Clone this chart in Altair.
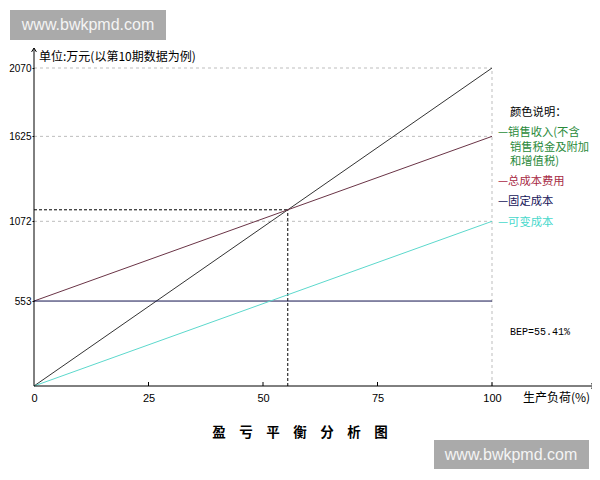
import altair as alt
import pandas as pd

# ---- data ----
load = [0, 100]                      # 生产负荷 (%)
revenue = [0, 2070]                  # 销售收入
total_cost = [553, 1625]             # 总成本费用
fixed_cost = [553, 553]              # 固定成本
variable_cost = [0, 1072]            # 可变成本
series_names = ["销售收入", "总成本费用", "固定成本", "可变成本"]
line_colors = ["#333333", "#6a3446", "#12124e", "#5cd8cc"]
y_ticks = [553, 1072, 1625, 2070]
x_ticks = [0, 25, 50, 75, 100]
x_tick_marks = [25, 50, 75, 100]
grid_levels = [1072, 1625, 2070]
bep_load = 55.41
bep_value = 1147

W, H = 458, 318
FONT = "Noto Sans CJK SC"
NUMFONT = "Liberation Sans"

rows = []
for name, vals in zip(series_names, [revenue, total_cost, fixed_cost, variable_cost]):
    for xv, yv in zip(load, vals):
        rows.append({"series": name, "load": xv, "value": yv})
lines_df = pd.DataFrame(rows)
one = pd.DataFrame({"k": [0]})

xs = alt.Scale(domain=[0, 100], nice=False, zero=False)
ys = alt.Scale(domain=[0, 2070], nice=False, zero=False)

x_axis = alt.Axis(values=x_ticks, domain=False, ticks=False, grid=False, labelPadding=6,
                  labelFontSize=11, labelFont=NUMFONT, labelColor="#000", title=None,
                  labelFlush=False, format="d")
y_axis = alt.Axis(values=y_ticks, domain=False, ticks=True, tickSize=2, tickColor="#000",
                  grid=False, labelPadding=1, labelFontSize=10, labelFont=NUMFONT,
                  labelColor="#000", title=None, labelFlush=False, format="d")

# gray dashed grid
grid_df = pd.DataFrame({"level": grid_levels, "x0": [0] * len(grid_levels), "x1": [100] * len(grid_levels)})
grid_h = alt.Chart(grid_df).mark_rule(color="#bdbdbd", strokeDash=[3, 3], strokeWidth=1).encode(
    y=alt.Y("level:Q", scale=ys, axis=y_axis),
    x=alt.X("x0:Q", scale=xs, axis=x_axis),
    x2="x1:Q",
)
grid_v = alt.Chart(pd.DataFrame({"xv": [100], "y0": [0], "y1": [2070]})).mark_rule(
    color="#bdbdbd", strokeDash=[3, 3], strokeWidth=1
).encode(x=alt.X("xv:Q", scale=xs), y=alt.Y("y0:Q", scale=ys), y2="y1:Q")

# break-even dashed lines
bep_h = alt.Chart(pd.DataFrame({"yv": [bep_value], "x0": [0], "x1": [bep_load]})).mark_rule(
    color="#000", strokeDash=[3, 2], strokeWidth=1
).encode(y=alt.Y("yv:Q", scale=ys), x=alt.X("x0:Q", scale=xs), x2="x1:Q")
bep_v = alt.Chart(pd.DataFrame({"xv": [bep_load], "y0": [0], "y1": [bep_value]})).mark_rule(
    color="#000", strokeDash=[3, 2], strokeWidth=1
).encode(x=alt.X("xv:Q", scale=xs), y=alt.Y("y0:Q", scale=ys), y2="y1:Q")

lines = alt.Chart(lines_df).mark_line(strokeWidth=1).encode(
    x=alt.X("load:Q", scale=xs),
    y=alt.Y("value:Q", scale=ys),
    color=alt.Color("series:N", scale=alt.Scale(domain=series_names, range=line_colors), legend=None),
)

# axis lines with arrows
y_line = alt.Chart(one).mark_rule(color="#000", strokeWidth=1).encode(
    x=alt.value(0), y=alt.value(-20), y2=alt.value(H))
x_line = alt.Chart(one).mark_rule(color="#000", strokeWidth=1).encode(
    y=alt.value(H), x=alt.value(0), x2=alt.value(561))
y_arrow = alt.Chart(one).mark_point(
    shape="M-0.8,1.3L0,0L0.8,1.3", filled=False, color="#000", strokeWidth=1, size=36, opacity=1
).encode(x=alt.value(0), y=alt.value(-20))
x_arrow = alt.Chart(one).mark_point(
    shape="M-1.3,-0.8L0,0L-1.3,0.8", filled=False, color="#000", strokeWidth=1, size=36, opacity=1
).encode(x=alt.value(561), y=alt.value(H))

x_ticks_layer = alt.Chart(pd.DataFrame({"t": x_tick_marks})).mark_rule(color="#000", strokeWidth=1).encode(
    x=alt.X("t:Q", scale=xs), y=alt.value(H - 4), y2=alt.value(H))


def label(txt, x, y, color="#000", size=11.3, align="left", font=FONT, weight="normal"):
    return alt.Chart(one).mark_text(
        text=txt, align=align, baseline="middle", fontSize=size, font=font,
        color=color, fontWeight=weight
    ).encode(x=alt.value(x), y=alt.value(y))


S = "\u3000"
texts = [
    label("单位:万元(以第10期数据为例)", 5, -11, size=12),
    label("生产负荷(%)", 489, 330, size=12),
    label("颜色说明：", 476, 45),
    label("—销售收入(不含", 464, 65, color="#2a8a3a"),
    label("销售税金及附加", 476, 80, color="#2a8a3a"),
    label("和增值税)", 476, 94, color="#2a8a3a"),
    label("—总成本费用", 464, 114, color="#a82a44"),
    label("—固定成本", 464, 134, color="#16165a"),
    label("—可变成本", 464, 155, color="#48d8cc"),
    label("BEP=55.41%", 476, 264, size=10, font="Liberation Mono"),
    label(S.join("盈亏平衡分析图"), 266, 365, size=13.5, align="center", weight="bold"),
]

wm1_box = alt.Chart(one).mark_rect(color="#aaaaaa").encode(
    x=alt.value(-24), x2=alt.value(132), y=alt.value(-58), y2=alt.value(-28))
wm1_txt = label("www.bwkpmd.com", 54, -43, color="#f4f4f4", size=16, align="center", font="Liberation Sans")
wm2_box = alt.Chart(one).mark_rect(color="#aaaaaa").encode(
    x=alt.value(400), x2=alt.value(555), y=alt.value(372), y2=alt.value(401))
wm2_txt = label("www.bwkpmd.com", 477, 387, color="#f4f4f4", size=16, align="center", font="Liberation Sans")

chart = alt.layer(
    grid_h, grid_v, bep_h, bep_v, lines, y_line, x_line, y_arrow, x_arrow, x_ticks_layer,
    *texts, wm1_box, wm1_txt, wm2_box, wm2_txt
).properties(
    width=W, height=H,
    autosize="none",
    padding={"left": 26, "top": 60, "right": 100, "bottom": 86},
    background="#ffffff",
).configure_view(stroke=None)

chart.save("out.html", embed_options={"renderer": "svg", "actions": False})
